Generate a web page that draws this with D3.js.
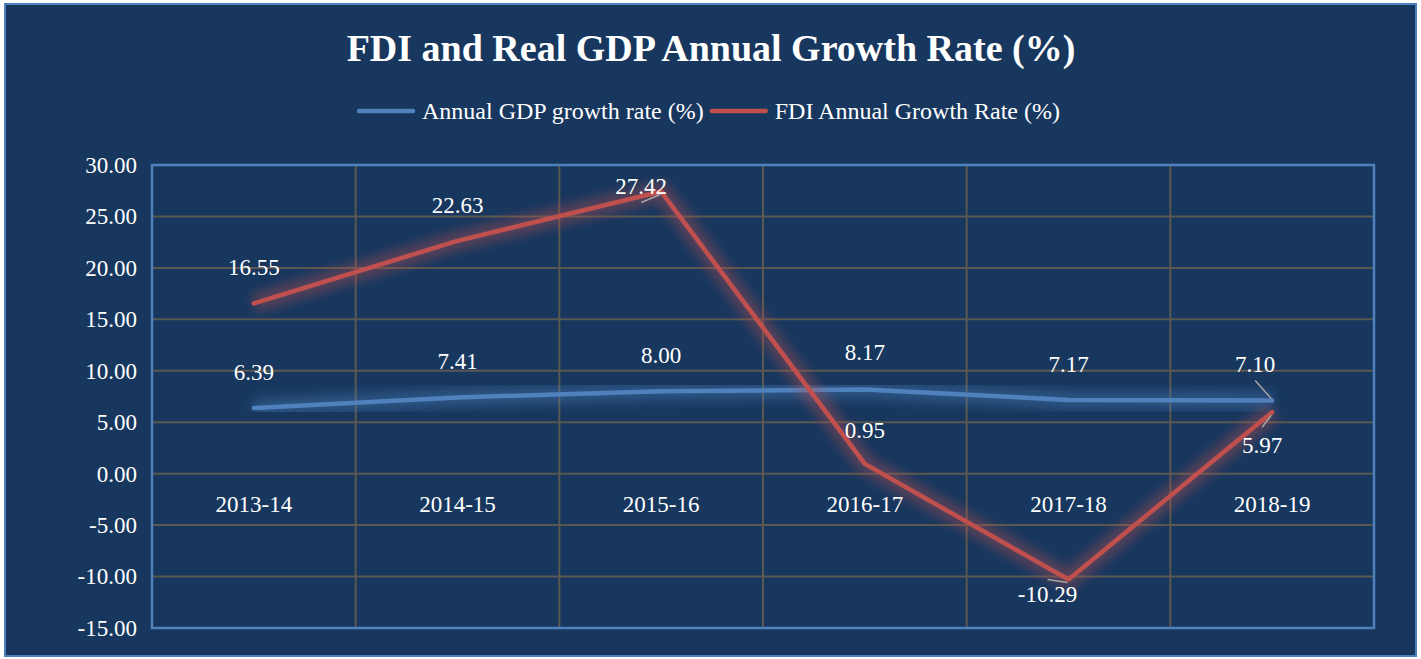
<html>
<head>
<meta charset="utf-8">
<script src="https://d3js.org/d3.v7.min.js"></script>
<style>
  body { margin: 0; background: #ffffff; }
  text { font-family: "Liberation Serif", "Times New Roman", serif; fill: #ffffff; }
</style>
</head>
<body>
<script>
// data
var years = ["2013-14", "2014-15", "2015-16", "2016-17", "2017-18", "2018-19"];
var gdpGrowth = [6.39, 7.41, 8.00, 8.17, 7.17, 7.10];
var fdiGrowth = [16.55, 22.63, 27.42, 0.95, -10.29, 5.97];
var seriesNames = ["Annual GDP growth rate (%)", "FDI Annual Growth Rate (%)"];
var yTicks = [-15, -10, -5, 0, 5, 10, 15, 20, 25, 30];

// label placement (dx, dy from point, leader line or not)
var gdpLabelPos = [[0,-28,0],[0,-28,0],[0,-28,0],[0,-30,0],[0,-28,0],[-17,-29,1]];
var fdiLabelPos = [[0,-28,0],[0,-28,0],[-20,2,1],[0,-26,0],[-21,22,1],[-10,41,1]];

var width = 1421, height = 659;
var plot = {left: 152, top: 165, right: 1374, bottom: 628};
var blue = "#4f81bd", red = "#c0504d";
var fmt = function(v) { return v.toFixed(2); };

var svg = d3.select("body").append("svg")
    .attr("width", width)
    .attr("height", height);

var defs = svg.append("defs");
defs.append("filter").attr("id", "glow")
    .attr("x", "-20%").attr("y", "-20%").attr("width", "140%").attr("height", "140%")
  .append("feGaussianBlur").attr("stdDeviation", 6);

svg.append("rect")
    .attr("x", 5).attr("y", 4)
    .attr("width", 1411).attr("height", 652)
    .attr("fill", "#17375e")
    .attr("stroke", blue)
    .attr("stroke-width", 2);

var x = d3.scaleBand().domain(years).range([plot.left, plot.right]);
var y = d3.scaleLinear().domain([-15, 30]).range([plot.bottom, plot.top]);
var cx = function(d, i) { return x(years[i]) + x.bandwidth() / 2; };

// gridlines
var grid = svg.append("g").attr("stroke", "#5a5850").attr("stroke-width", 2);
grid.selectAll("line.h").data(yTicks).enter().append("line")
    .attr("x1", plot.left).attr("x2", plot.right)
    .attr("y1", function(d) { return y(d); })
    .attr("y2", function(d) { return y(d); });
grid.selectAll("line.v").data(years.slice(1)).enter().append("line")
    .attr("x1", function(d) { return x(d); })
    .attr("x2", function(d) { return x(d); })
    .attr("y1", plot.top).attr("y2", plot.bottom);

// y axis
var yAxis = svg.append("g")
    .attr("transform", "translate(" + plot.left + ",0)")
    .call(d3.axisLeft(y).tickValues(yTicks).tickSize(0).tickPadding(15).tickFormat(fmt));
yAxis.select(".domain").remove();
yAxis.selectAll("text").attr("font-size", 23).attr("font-family", "Liberation Serif").attr("fill", "#f2f2f2");

// x axis at zero
var xAxis = svg.append("g")
    .attr("transform", "translate(0," + y(0) + ")")
    .call(d3.axisBottom(x).tickSize(0).tickPadding(22));
xAxis.select(".domain").remove();
xAxis.selectAll("text").attr("font-size", 23).attr("font-family", "Liberation Serif").attr("fill", "#f2f2f2");

// plot border
svg.append("rect")
    .attr("x", plot.left).attr("y", plot.top)
    .attr("width", plot.right - plot.left).attr("height", plot.bottom - plot.top)
    .attr("fill", "none").attr("stroke", blue).attr("stroke-width", 2.5);

var line = d3.line().x(cx).y(function(d) { return y(d); });

function drawSeries(values, color) {
  svg.append("path").datum(values)
    .attr("d", line).attr("fill", "none")
    .attr("stroke", color).attr("stroke-width", 18)
    .attr("stroke-opacity", 0.4)
    .attr("stroke-linejoin", "round")
    .attr("filter", "url(#glow)");
  svg.append("path").datum(values)
    .attr("d", line).attr("fill", "none")
    .attr("stroke", color).attr("stroke-width", 4.5)
    .attr("stroke-linejoin", "round")
    .attr("stroke-linecap", "round");
}
drawSeries(gdpGrowth, blue);
drawSeries(fdiGrowth, red);

function drawLabels(values, pos) {
  var g = svg.append("g");
  values.forEach(function(v, i) {
    var px = cx(v, i), py = y(v), p = pos[i];
    if (p[2]) {
      var lx = px + p[0], ly;
      if (Math.abs(p[1]) < 10) ly = py + p[1] + 9;
      else if (p[1] > 30) ly = py + p[1] - 26;
      else if (p[1] > 0) ly = py + p[1] - 22;
      else ly = py + p[1] + 9;
      g.append("line")
        .attr("x1", lx).attr("y1", ly)
        .attr("x2", px - 1).attr("y2", py + (p[1] > 0 ? 3 : -2))
        .attr("stroke", "#a6a6a6").attr("stroke-width", 1.5);
    }
    g.append("text")
      .attr("x", px + p[0]).attr("y", py + p[1])
      .attr("text-anchor", "middle")
      .attr("font-size", 23)
      .text(fmt(v));
  });
}
drawLabels(gdpGrowth, gdpLabelPos);
drawLabels(fdiGrowth, fdiLabelPos);

// title
svg.append("text")
    .attr("x", 711).attr("y", 61)
    .attr("text-anchor", "middle")
    .attr("font-size", 38)
    .attr("font-weight", "bold")
    .text("FDI and Real GDP Annual Growth Rate (%)");

// legend
var legendColors = [blue, red];
var legend = svg.append("g");
var lx = 359;
seriesNames.forEach(function(name, i) {
  legend.append("line")
    .attr("x1", lx).attr("x2", lx + 54)
    .attr("y1", 111).attr("y2", 111)
    .attr("stroke", legendColors[i])
    .attr("stroke-width", 4.5).attr("stroke-linecap", "round");
  var t = legend.append("text")
    .attr("x", lx + 63).attr("y", 119)
    .attr("font-size", 24)
    .text(name);
  lx = lx + 63 + t.node().getComputedTextLength() + 8;
});
</script>
</body>
</html>
